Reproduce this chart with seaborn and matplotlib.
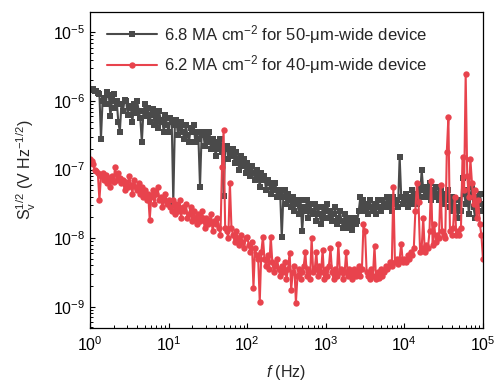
import numpy as np
import pandas as pd
import matplotlib
matplotlib.use("Agg")
import matplotlib.pyplot as plt
from matplotlib.ticker import NullFormatter
import seaborn as sns

# frequency grid: 50 points per decade from 1 Hz to 100 kHz
freq = np.logspace(0, 5, 251)

# log10 of S_v^{1/2}, 6.8 MA cm^-2, 50-um-wide device
gray_log = [
    -5.82, -5.84, -5.83, -5.86, -5.85, -5.88, -5.90, -6.55, -6.00, -5.95,
    -6.05, -5.87, -5.92, -6.22, -6.00, -5.90, -6.10, -6.00, -6.30, -6.45,
    -6.05, -6.15, -5.98, -6.00, -6.20, -6.08, -6.10, -6.30, -6.05, -6.18,
    -6.00, -6.15, -6.25, -6.60, -6.15, -6.05, -6.22, -6.10, -6.30, -6.20,
    -6.12, -6.35, -6.20, -6.40, -6.15, -6.28, -6.30, -6.45, -6.20, -6.35,
    -6.45, -6.25, -6.30, -7.48, -6.35, -6.28, -6.50, -6.40, -6.30, -6.45,
    -6.55, -6.35, -6.50, -6.60, -6.40, -6.45, -6.35, -6.60, -6.45, -6.55,
    -7.25, -6.50, -6.45, -6.65, -6.50, -6.60, -6.45, -6.70, -6.55, -6.65,
    -6.80, -6.60, -6.70, -6.55, -6.75, -7.39, -6.70, -6.65, -6.85, -6.75,
    -6.80, -6.70, -6.90, -6.75, -6.85, -7.00, -6.80, -6.95, -6.85, -7.05,
    -6.90, -7.00, -7.10, -6.95, -7.05, -7.15, -7.00, -7.10, -7.25, -7.05,
    -7.15, -7.10, -7.30, -7.15, -7.20, -7.35, -7.25, -7.30, -7.20, -7.40,
    -7.30, -7.35, -7.99, -7.40, -7.30, -7.50, -7.35, -7.45, -7.55, -7.40,
    -7.60, -7.45, -7.50, -7.65, -7.45, -7.90, -7.55, -7.60, -7.45, -7.70,
    -7.50, -7.60, -7.65, -7.50, -7.75, -7.55, -7.65, -7.80, -7.55, -7.70,
    -7.60, -7.50, -7.70, -7.60, -7.75, -7.65, -7.55, -7.80, -7.70, -7.60,
    -7.75, -7.85, -7.65, -7.80, -7.70, -7.85, -7.75, -7.88, -7.70, -7.80,
    -7.75, -7.60, -7.40, -7.55, -7.45, -7.60, -7.50, -7.65, -7.45, -7.55,
    -7.60, -7.50, -7.65, -7.45, -7.55, -7.60, -7.45, -7.55, -7.50, -7.40,
    -7.55, -7.45, -7.60, -7.40, -7.50, -7.45, -7.55, -6.81, -7.40, -7.50,
    -7.45, -7.35, -7.55, -7.40, -7.50, -7.30, -7.45, -7.35, -7.50, -7.25,
    -7.40, -7.00, -7.30, -7.40, -7.25, -7.35, -7.20, -7.45, -7.30, -7.40,
    -7.25, -7.35, -7.45, -7.30, -7.40, -7.50, -7.35, -7.45, -7.30, -7.55,
    -7.40, -7.60, -7.45, -7.55, -7.70, -7.45, -7.60, -7.12, -7.35, -7.50,
    -7.30, -7.65, -7.40, -7.25, -7.55, -7.70, -7.40, -7.60, -7.35, -7.50,
    -7.60,
]

# log10 of S_v^{1/2}, 6.2 MA cm^-2, 40-um-wide device
red_log = [
    -6.85, -6.88, -6.92, -7.00, -7.02, -7.05, -7.44, -7.10, -7.05, -7.15,
    -7.08, -7.20, -7.12, -7.25, -7.10, -7.18, -6.96, -7.15, -7.05, -7.12,
    -7.20, -7.15, -7.30, -7.18, -7.25, -7.10, -7.22, -7.35, -7.15, -7.25,
    -7.30, -7.20, -7.35, -7.25, -7.40, -7.30, -7.45, -7.35, -7.73, -7.40,
    -7.30, -7.50, -7.35, -7.25, -7.45, -7.40, -7.55, -7.45, -7.35, -7.50,
    -7.45, -7.55, -7.60, -7.45, -7.65, -7.50, -7.60, -7.45, -7.70, -7.55,
    -7.60, -7.50, -7.70, -7.65, -7.55, -7.75, -7.60, -7.70, -7.80, -7.65,
    -7.75, -7.60, -7.70, -7.85, -7.70, -7.80, -7.75, -7.65, -7.90, -7.75,
    -7.80, -7.70, -7.85, -7.95, -6.96, -6.43, -7.85, -7.90, -8.00, -7.19,
    -7.85, -7.95, -8.05, -7.90, -8.00, -8.10, -7.95, -8.05, -8.15, -8.00,
    -7.98, -8.10, -8.20, -8.05, -8.72, -8.15, -8.25, -8.30, -8.93, -8.20,
    -7.98, -8.30, -8.40, -8.25, -8.45, -7.98, -8.35, -8.50, -8.40, -8.30,
    -8.45, -8.55, -8.40, -8.50, -8.35, -8.60, -8.45, -8.21, -8.75, -8.50,
    -8.40, -8.94, -8.55, -8.45, -8.60, -8.50, -8.40, -8.20, -8.55, -8.45,
    -8.60, -8.00, -8.50, -8.45, -8.20, -8.55, -8.40, -8.50, -8.17, -8.60,
    -8.45, -8.55, -8.40, -8.15, -8.50, -8.60, -8.45, -8.55, -8.08, -8.50,
    -8.45, -8.60, -8.50, -8.20, -8.55, -8.45, -8.50, -8.60, -8.45, -8.55,
    -8.50, -8.40, -8.55, -8.45, -7.80, -7.90, -8.50, -8.55, -8.60, -8.45,
    -8.55, -8.12, -8.60, -8.50, -8.58, -8.45, -8.55, -8.50, -8.40, -8.45,
    -8.40, -8.35, -8.40, -7.25, -8.35, -8.30, -8.38, -8.30, -8.08, -8.35,
    -8.30, -8.35, -8.25, -8.30, -8.20, -8.25, -8.15, -7.60, -7.19, -7.48,
    -8.20, -8.15, -7.70, -8.20, -8.10, -8.15, -7.90, -7.17, -8.10, -7.80,
    -8.05, -7.95, -8.00, -7.22, -7.90, -7.95, -8.00, -6.74, -6.24, -7.90,
    -7.95, -7.85, -7.40, -7.95, -7.90, -7.95, -7.85, -6.81, -7.30, -5.61,
    -7.10, -7.40, -6.85, -7.20, -7.50, -7.30, -7.70, -7.45, -7.80, -7.95,
    -8.31,
]

x_ticks = [1e0, 1e1, 1e2, 1e3, 1e4, 1e5]
y_ticks = [1e-9, 1e-8, 1e-7, 1e-6, 1e-5]

label_gray = "6.8 MA cm$^{-2}$ for 50-\u03bcm-wide device"
label_red = "6.2 MA cm$^{-2}$ for 40-\u03bcm-wide device"
color_gray = "#4a4a4a"
color_red = "#e8434d"

sns.set_theme(style="ticks")
plt.rcParams["font.family"] = ["Liberation Sans", "DejaVu Sans"]
plt.rcParams["mathtext.fontset"] = "custom"
plt.rcParams["mathtext.rm"] = "Liberation Sans"
plt.rcParams["mathtext.it"] = "Liberation Sans:italic"
plt.rcParams["mathtext.bf"] = "Liberation Sans:bold"
plt.rcParams["axes.unicode_minus"] = True

df = pd.DataFrame({
    "f": np.concatenate([freq, freq]),
    "S": np.concatenate([10.0 ** np.array(gray_log), 10.0 ** np.array(red_log)]),
    "series": [label_gray] * len(freq) + [label_red] * len(freq),
})

fig = plt.figure(figsize=(5.01, 3.83), dpi=100)
ax = fig.add_axes([0.1796, 0.1436, 0.7844, 0.8259])

sns.lineplot(data=df[df.series == label_gray], x="f", y="S", ax=ax,
             color=color_gray, marker="s", markersize=4.0, markeredgewidth=0,
             linewidth=1.5, label=label_gray, sort=False, estimator=None)
sns.lineplot(data=df[df.series == label_red], x="f", y="S", ax=ax,
             color=color_red, marker="o", markersize=4.6, markeredgewidth=0,
             linewidth=1.5, label=label_red, sort=False, estimator=None)

ax.set_xscale("log")
ax.set_yscale("log")
ax.set_xticks(x_ticks)
ax.set_yticks(y_ticks)
ax.set_xlim(1, 1e5)
ax.set_ylim(4.9e-10, 2.0e-5)
ax.xaxis.set_minor_formatter(NullFormatter())
ax.yaxis.set_minor_formatter(NullFormatter())

ax.tick_params(which="both", direction="in", top=False, right=False,
               labelsize=11.5, colors="black")
ax.tick_params(axis="x", which="major", pad=5)
ax.tick_params(which="major", length=3.6, width=0.8)
ax.tick_params(which="minor", length=2.0, width=0.7)
for sp in ax.spines.values():
    sp.set_linewidth(0.9)
    sp.set_color("black")

ax.set_xlabel("$f$ (Hz)", fontsize=11.5, labelpad=7)
ax.set_ylabel("S$_\\mathrm{v}^{1/2}$ (V Hz$^{-1/2}$)", fontsize=11.5, labelpad=11)

leg = ax.legend(loc="upper left", bbox_to_anchor=(0.005, 1.012), frameon=False,
                fontsize=12, handlelength=3.0, handletextpad=0.45,
                labelspacing=0.45, numpoints=1)

fig.savefig("out.png", dpi=100)
